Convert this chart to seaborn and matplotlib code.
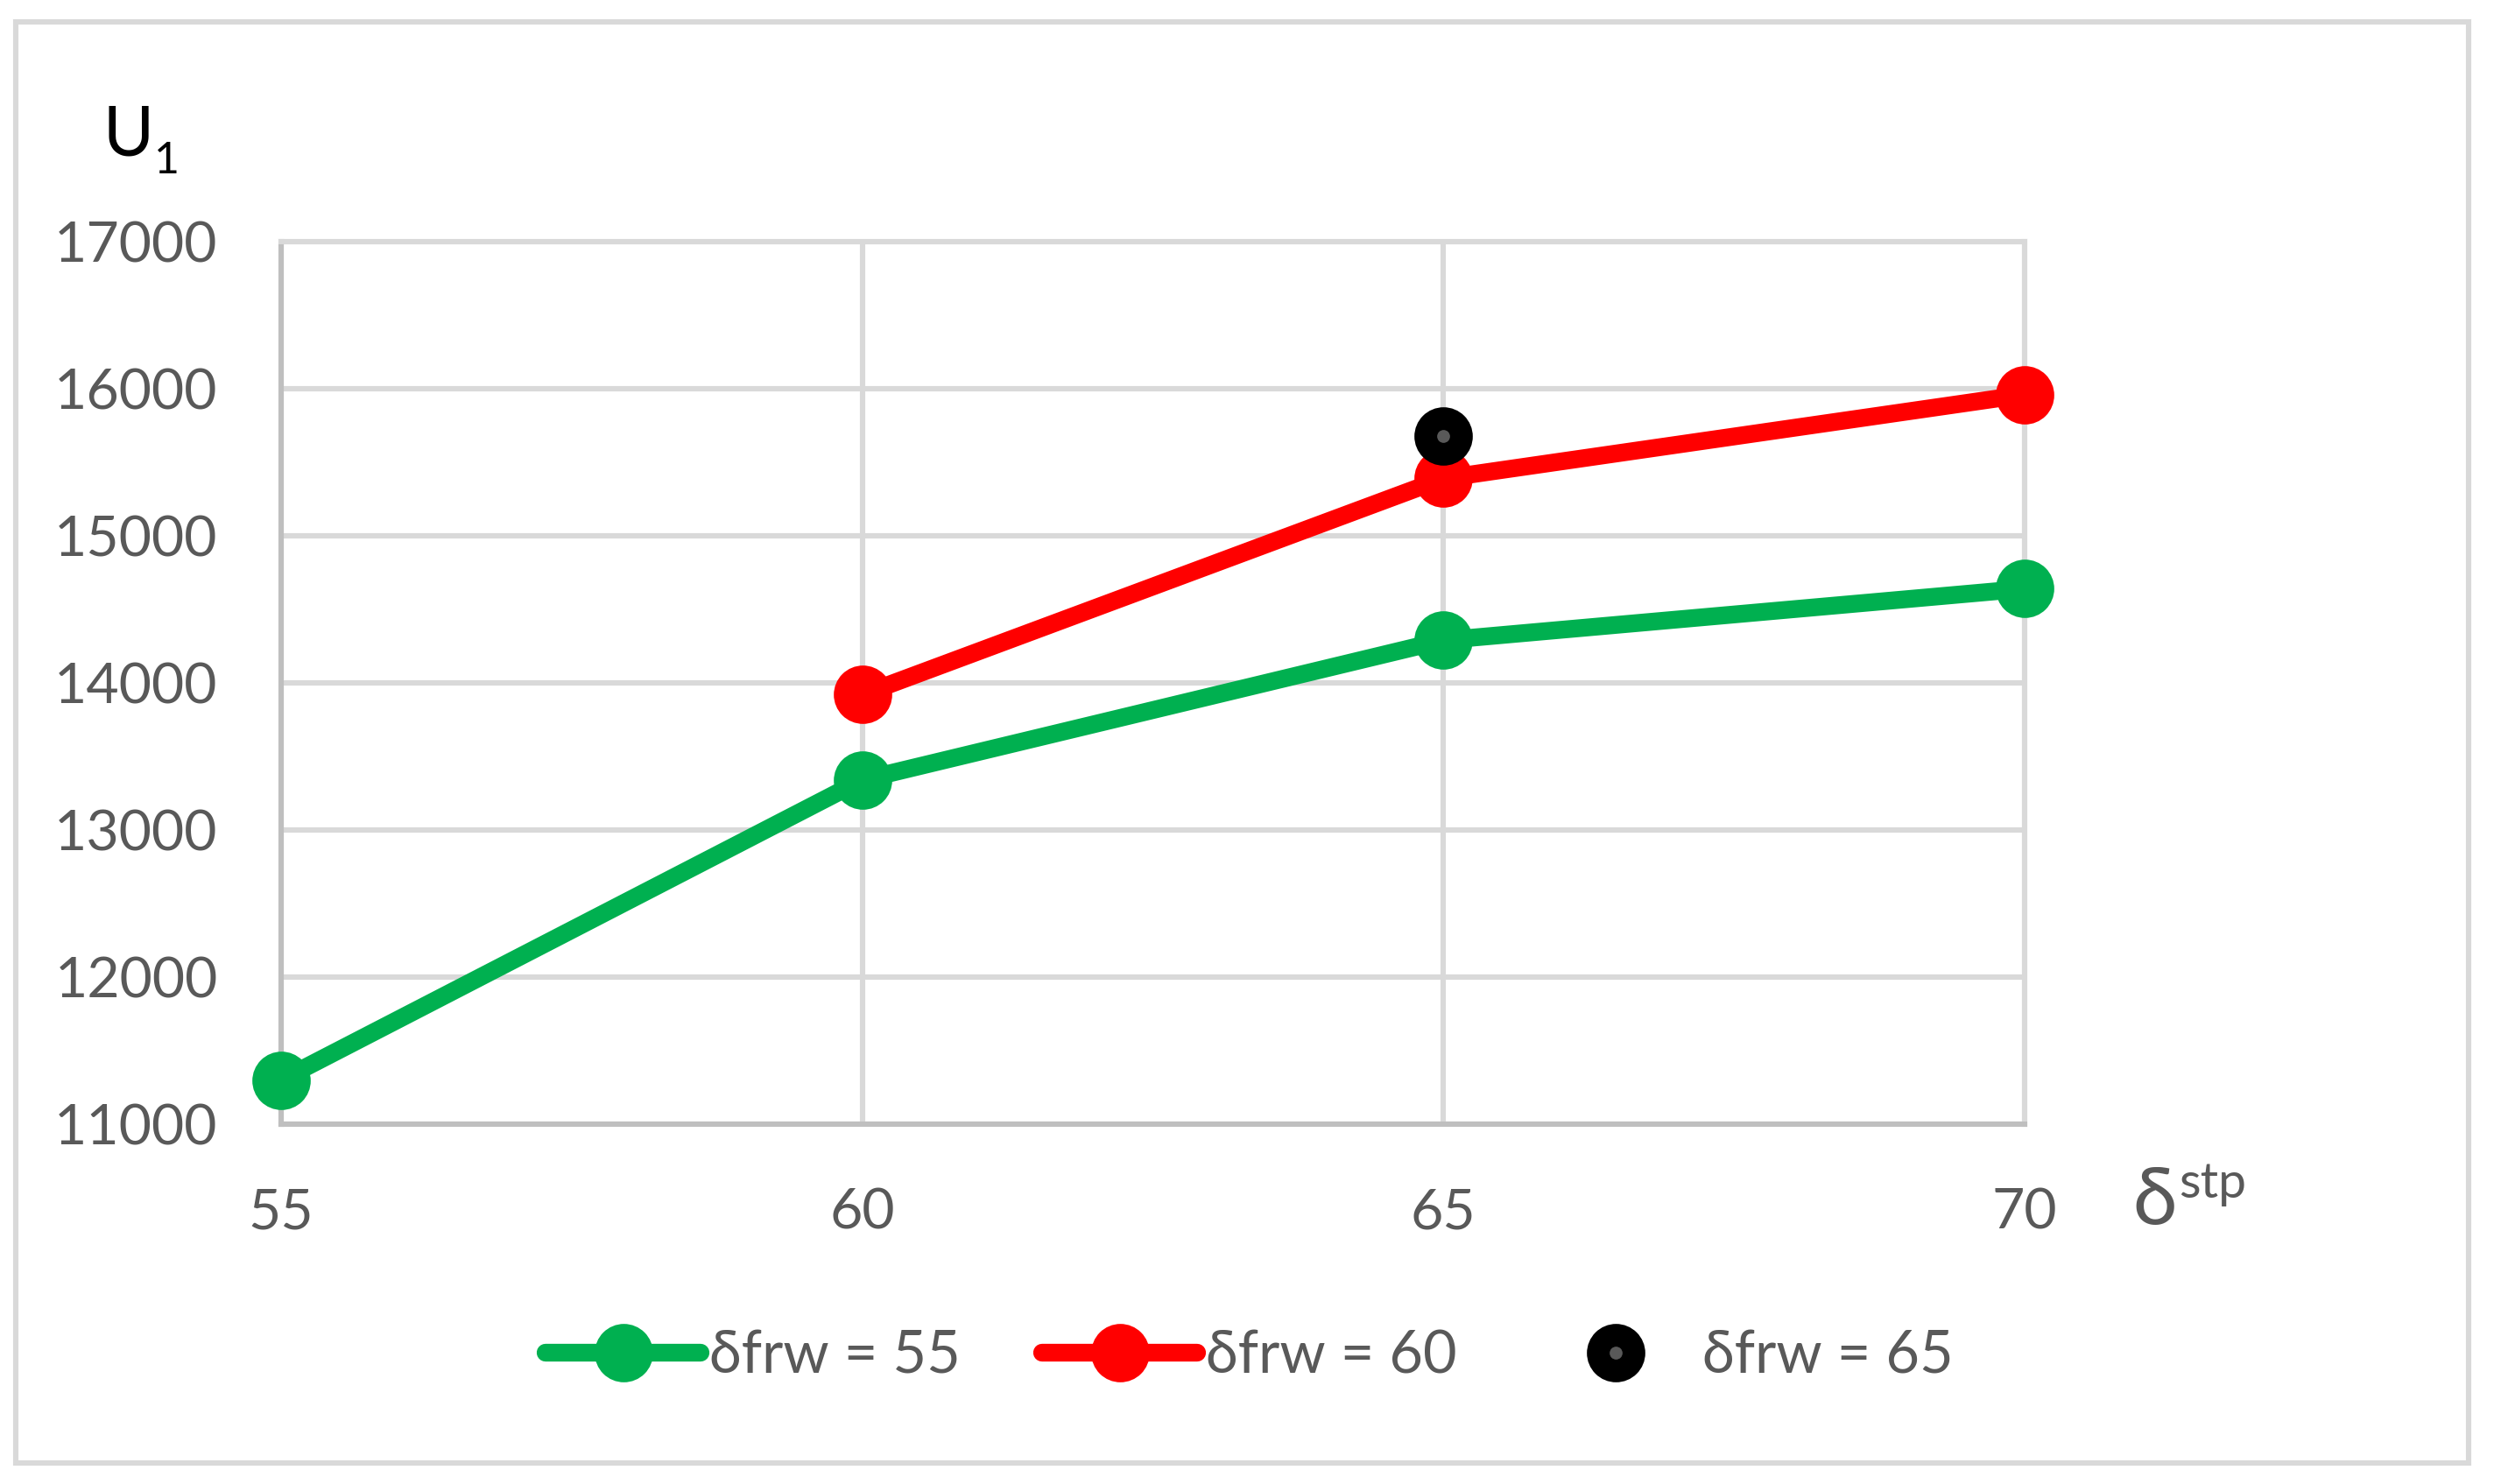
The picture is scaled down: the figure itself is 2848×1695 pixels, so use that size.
import matplotlib
matplotlib.use("Agg")
import matplotlib.pyplot as plt
import matplotlib.patches as patches
from matplotlib.legend_handler import HandlerTuple
import seaborn as sns
import pandas as pd

# data
stp_55 = [55, 60, 65, 70]
u1_55 = [11300, 13340, 14290, 14640]
stp_60 = [60, 65, 70]
u1_60 = [13920, 15390, 15960]
stp_65 = [65]
u1_65 = [15680]
labels = ["δfrw = 55", "δfrw = 60", "δfrw = 65"]
x_ticks = [55, 60, 65, 70]
y_ticks = [11000, 12000, 13000, 14000, 15000, 16000, 17000]

GREEN = "#00b050"
RED = "#ff0000"
TXT = "#595959"

sns.set_theme(style="white")
plt.rcParams["font.family"] = ["Lato", "DejaVu Sans"]

fig = plt.figure(figsize=(14.24, 8.475), dpi=200)
ax = fig.add_axes([0.1127, 0.2425, 0.6991, 0.5947])

df55 = pd.DataFrame({"stp": stp_55, "u1": u1_55})
df60 = pd.DataFrame({"stp": stp_60, "u1": u1_60})
df65 = pd.DataFrame({"stp": stp_65, "u1": u1_65})

common = dict(marker="o", markersize=24, markeredgewidth=0, linewidth=7.3,
              legend=False, clip_on=False)
sns.lineplot(data=df55, x="stp", y="u1", color=GREEN, ax=ax, zorder=3, **common)
sns.lineplot(data=df60, x="stp", y="u1", color=RED, ax=ax, zorder=4, **common)
ax.plot(df65["stp"], df65["u1"], "o", color="black", markersize=24,
        markeredgewidth=0, zorder=5, clip_on=False)
ax.plot(df65["stp"], df65["u1"], "o", color=TXT, markersize=5.3,
        markeredgewidth=0, zorder=6, clip_on=False)

ax.set_xlim(55, 70)
ax.set_ylim(11000, 17000)
ax.set_xticks(x_ticks)
ax.set_yticks(y_ticks)
ax.tick_params(axis="both", length=0, labelsize=23.2, labelcolor=TXT, pad=26)
ax.set_xlabel("")
ax.set_ylabel("")
ax.grid(True, color="#d9d9d9", linewidth=2.2, zorder=0)
ax.set_axisbelow(True)
for s in ["left", "bottom"]:
    ax.spines[s].set_color("#bfbfbf")
    ax.spines[s].set_linewidth(2.2)
for s in ["top", "right"]:
    ax.spines[s].set_color("#d9d9d9")
    ax.spines[s].set_linewidth(2.2)

# axis titles
fig.text(0.0414, 0.895, "U", fontsize=28.5, color="black", va="baseline")
fig.text(0.0618, 0.883, "1", fontsize=18, color="black", va="baseline")
fig.text(0.855, 0.1752, "δ", fontsize=33, color=TXT, va="baseline")
fig.text(0.8735, 0.193, "stp", fontsize=20.5, color=TXT, va="baseline")

# legend
lines = ax.get_lines()
h55 = lines[0]
h60 = lines[1]
h65 = (lines[2], lines[3])
fig.legend([h55, h60, h65], labels, loc="center", bbox_to_anchor=(0.501, 0.086),
           ncol=3, frameon=False, handlelength=2.65, handletextpad=0.15,
           columnspacing=1.4, fontsize=24, labelcolor=TXT,
           handler_map={tuple: HandlerTuple(ndivide=1)})

# outer border
fig.patches.append(patches.Rectangle((0.0063, 0.0142), 0.9835, 0.9711,
                                     transform=fig.transFigure, fill=False,
                                     edgecolor="#d9d9d9", linewidth=2.2))

fig.savefig("out.png", dpi=200)
